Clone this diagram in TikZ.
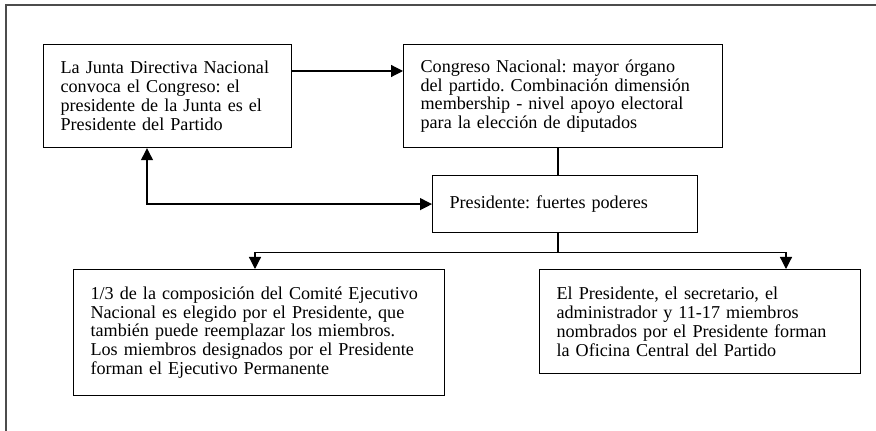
\documentclass[tikz,border=0pt]{standalone}
\usepackage{fontspec}
\setmainfont{Liberation Serif}
\usetikzlibrary{arrows.meta,positioning,calc}
\frenchspacing

\begin{document}
\begin{tikzpicture}[x=0.75pt, y=-0.75pt,
  >={Triangle[length=9pt,width=9pt]},
  box/.style={draw, line width=0.9pt, anchor=north west, align=left,
    inner xsep=12.75pt, inner ysep=0pt,
    font=\fontsize{13.6}{14.2}\selectfont},
  link/.style={line width=0.9pt},
]
  \useasboundingbox (0,0) rectangle (876,431);
  % Outer frame (only top and left edges show)
  \draw[line width=1.5pt, black!70] (5.5,431) -- (5.5,5.5) -- (876,5.5);
  % Boxes
  \node[box, minimum width=186pt, minimum height=77.25pt, text width=160.5pt]
    (junta) at (43,44) {La Junta Directiva Nacional\\convoca el Congreso: el\\
      presidente de la Junta es el\\Presidente del Partido};
  \node[box, minimum width=239.25pt, minimum height=77.25pt, text width=213.75pt]
    (congreso) at (403,44) {Congreso Nacional: mayor órgano\\
      del partido. Combinación dimensión\\membership - nivel apoyo electoral\\
      para la elección de diputados};
  \node[box, minimum width=198.75pt, minimum height=42.75pt, text width=173.25pt]
    (presidente) at (432,175) {Presidente: fuertes poderes};
  \node[box, minimum width=278.25pt, minimum height=94.5pt, text width=252.75pt]
    (comite) at (73,269) {1/3 de la composición del Comité Ejecutivo\\
      Nacional es elegido por el Presidente, que\\
      también puede reemplazar los miembros.\\
      Los miembros designados por el Presidente\\
      forman el Ejecutivo Permanente};
  \node[box, minimum width=240.75pt, minimum height=78pt, text width=215.25pt]
    (oficina) at (539,269) {El Presidente, el secretario, el\\
      administrador y 11-17 miembros\\nombrados por el Presidente forman\\
      la Oficina Central del Partido};
  % Connectors
  \draw[link, ->] ($(junta.north east)+(0,27)$) -- ($(congreso.north west)+(0,27)$);
  \draw[link] ($(congreso.south west)+(155,0)$) -- ($(presidente.north west)+(126,0)$);
  \draw[link, <->] ($(junta.south west)+(104,0)$) |- (presidente.west);
  \coordinate (fork) at ($(presidente.south west)+(126,19)$);
  \draw[link] ($(presidente.south west)+(126,0)$) -- (fork);
  \draw[link, ->] (fork) -| ($(comite.north west)+(182,0)$);
  \draw[link, ->] (fork) -| ($(oficina.north west)+(247,0)$);
\end{tikzpicture}
\end{document}
